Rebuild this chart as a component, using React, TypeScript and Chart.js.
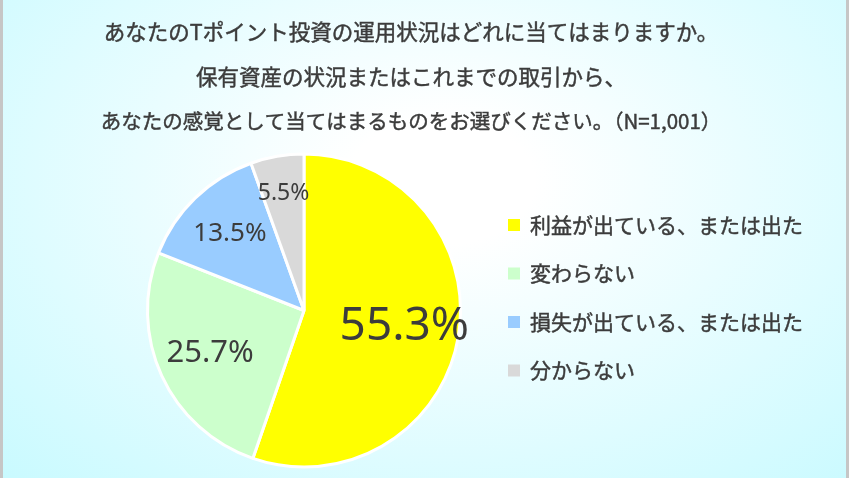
import { useEffect, useRef } from 'react'
import { Chart, registerables } from 'chart.js'

Chart.register(...registerables)

const titleLines = [
  'あなたのTポイント投資の運用状況はどれに当てはまりますか。',
  '保有資産の状況またはこれまでの取引から、',
  'あなたの感覚として当てはまるものをお選びください。（N=1,001）',
]
const titleSizes = [21.5, 21.5, 20.5]
const categories = ['利益が出ている、または出た', '変わらない', '損失が出ている、または出た', '分からない']
const shares = [55.3, 25.7, 13.5, 5.5]
const sliceColors = ['#ffff00', '#ccffcc', '#99ccff', '#d9d9d9']

// label look per slice (size in px, distance from centre as share of radius)
const labelSizes = [46, 31, 26, 23]
const labelRadius = [0.65, 0.66, 0.68, 0.76]

const textColor = '#3c3c3c'
const jpFont = '"Noto Sans CJK JP", "Noto Sans", sans-serif'
const numFont = '"Noto Sans", "Open Sans", sans-serif'

// fill + a hairline stroke so the text is as heavy as in the original
function heavyText(ctx: CanvasRenderingContext2D, text: string, x: number, y: number) {
  ctx.fillText(text, x, y)
  ctx.strokeText(text, x, y)
}

const textPlugin = {
  id: 'textPlugin',
  afterDatasetsDraw(chart: Chart) {
    const ctx = chart.ctx
    const meta = chart.getDatasetMeta(0)
    ctx.save()
    ctx.fillStyle = textColor
    ctx.strokeStyle = textColor
    ctx.lineWidth = 0.45
    ctx.textAlign = 'center'
    ctx.textBaseline = 'middle'
    meta.data.forEach((el, i) => {
      const arc = el as any
      const { x, y, startAngle, endAngle, outerRadius } = arc.getProps(
        ['x', 'y', 'startAngle', 'endAngle', 'outerRadius'],
        true
      )
      const mid = (startAngle + endAngle) / 2
      const r = outerRadius * labelRadius[i]
      ctx.font = `${labelSizes[i]}px ${numFont}`
      ctx.fillText(shares[i].toFixed(1) + '%', x + Math.cos(mid) * r, y + Math.sin(mid) * r)
    })

    // title
    titleLines.forEach((line, i) => {
      ctx.font = `${titleSizes[i]}px ${jpFont}`
      heavyText(ctx, line, 411, 32 + i * 44.5)
    })

    // legend
    ctx.textAlign = 'left'
    ctx.font = `21px ${jpFont}`
    categories.forEach((label, i) => {
      const y = 225 + i * 48.5
      ctx.fillStyle = sliceColors[i]
      ctx.fillRect(508, y - 6, 12, 12)
      ctx.fillStyle = textColor
      heavyText(ctx, label, 530, y)
    })
    ctx.restore()
  },
}

export default function App() {
  const chartRef = useRef<HTMLCanvasElement>(null)
  const chartInstance = useRef<Chart | null>(null)

  useEffect(() => {
    document.body.style.margin = '0'
    if (!chartRef.current) return
    if (chartInstance.current) chartInstance.current.destroy()

    chartInstance.current = new Chart(chartRef.current, {
      type: 'pie',
      data: {
        labels: categories,
        datasets: [
          {
            data: shares,
            backgroundColor: sliceColors,
            borderColor: '#ffffff',
            borderWidth: 3,
            hoverOffset: 0,
          },
        ],
      },
      options: {
        responsive: false,
        animation: false,
        layout: { padding: { top: 152, bottom: 9, left: 146, right: 387 } },
        plugins: {
          legend: { display: false },
          title: { display: false },
          tooltip: { enabled: false },
        },
      },
      plugins: [textPlugin],
    })

    return () => {
      if (chartInstance.current) {
        chartInstance.current.destroy()
        chartInstance.current = null
      }
    }
  }, [])

  return (
    <div
      style={{
        position: 'relative',
        width: 849,
        height: 478,
        boxSizing: 'border-box',
        borderLeft: '3px solid #c6c6c6',
        borderRight: '3px solid #c6c6c6',
        background: 'radial-gradient(ellipse at 52% 38%, #ffffff 0%, #ffffff 15%, #c9faff 100%)',
        overflow: 'hidden',
      }}
    >
      <canvas
        ref={chartRef}
        width={849}
        height={478}
        style={{ position: 'absolute', left: -3, top: 0, width: 849, height: 478 }}
      />
    </div>
  )
}
